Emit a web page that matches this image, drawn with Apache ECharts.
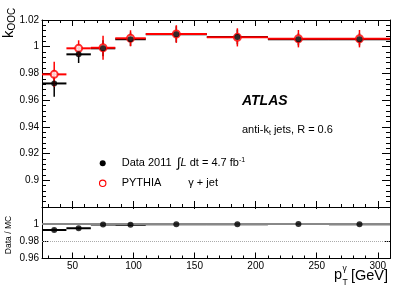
<!DOCTYPE html>
<html>
<head>
<meta charset="utf-8">
<script src="https://cdn.jsdelivr.net/npm/echarts@6/dist/echarts.min.js"></script>
<style>html,body{margin:0;padding:0;background:#fff}#c{width:411px;height:295px}</style>
</head>
<body>
<div id="c"></div>
<script>
// ---- data ----
const binLo = [25, 45, 65, 85, 110, 160, 210, 260];
const binHi = [45, 65, 85, 110, 160, 210, 260, 310];
const ptX   = [35, 55, 75, 97.5, 135, 185, 235, 285];
const dataK   = [0.9725, 0.9943, 0.9988, 1.0056, 1.0093, 1.0073, 1.0055, 1.0055];
const dataErr = [0.0100, 0.0065, 0.0060, 0.0050, 0.0060, 0.0055, 0.0045, 0.0045];
const mcK     = [0.9793, 0.9988, 0.9992, 1.0063, 1.0095, 1.0070, 1.0060, 1.0060];
const mcErr   = [0.0095, 0.0060, 0.0090, 0.0060, 0.0066, 0.0068, 0.0065, 0.0065];
const ratio    = [0.9932, 0.9952, 0.9995, 0.9993, 1.0000, 1.0000, 1.0002, 1.0000];
const ratioErr = [0.0015, 0.0010, 0.0010, 0.0010, 0.0010, 0.0010, 0.0010, 0.0010];
const xMajor = [50, 100, 150, 200, 250, 300];
const xMinor = [30, 40, 60, 70, 80, 90, 110, 120, 130, 140, 160, 170, 180, 190, 210, 220, 230, 240, 260, 270, 280, 290];
const yMainLabels = [0.9, 0.92, 0.94, 0.96, 0.98, 1, 1.02];
const yRatioLabels = [0.96, 0.98, 1];

const FONT = 'Liberation Sans, Arial, Helvetica, sans-serif';
const chart = echarts.init(document.getElementById('c'), null, {renderer: 'canvas'});

function xAx(grid, pos, ticks, len, showLine, labels) {
  return {
    type: 'value', gridIndex: grid, position: pos, min: 25, max: 310,
    axisLine: {show: showLine, onZero: false, lineStyle: {color: '#000', width: 1}},
    axisTick: {show: true, inside: true, length: len, customValues: ticks, lineStyle: {color: '#000', width: 1}},
    axisLabel: labels ? {show: true, customValues: labels, color: '#000', fontSize: 10, fontFamily: FONT, margin: 3} : {show: false},
    splitLine: {show: false}
  };
}
function yAx(grid, pos, min, max, labels, majLen, minor) {
  return {
    type: 'value', gridIndex: grid, position: pos, min: min, max: max, interval: 0.02,
    axisLine: {show: true, onZero: false, lineStyle: {color: '#000', width: 1}},
    axisTick: {show: true, inside: true, length: majLen, lineStyle: {color: '#000', width: 1}},
    minorTick: minor ? {show: true, splitNumber: 5, length: 4, lineStyle: {color: '#000', width: 1}} : {show: false},
    axisLabel: labels ? {show: true, customValues: labels, color: '#000', fontSize: 10, fontFamily: FONT, margin: 3} : {show: false},
    splitLine: {show: false}, minorSplitLine: {show: false}
  };
}

function barItem(color, hw, vw) {
  return function (params, api) {
    const x = api.value(0), y = api.value(1), lo = api.value(2), hi = api.value(3), e = api.value(4);
    const pL = api.coord([lo, y]), pR = api.coord([hi, y]);
    const pT = api.coord([x, y + e]), pB = api.coord([x, y - e]);
    return {type: 'group', children: [
      {type: 'line', shape: {x1: pL[0], y1: pL[1], x2: pR[0], y2: pR[1]}, style: {stroke: color, lineWidth: hw}},
      {type: 'line', shape: {x1: pT[0], y1: pT[1], x2: pB[0], y2: pB[1]}, style: {stroke: color, lineWidth: vw}}
    ]};
  };
}
const dataBars = dataK.map((v, i) => [ptX[i], v, binLo[i], binHi[i], dataErr[i]]);
const mcBars = mcK.map((v, i) => [ptX[i], v, binLo[i], binHi[i], mcErr[i]]);
const ratioBars = ratio.map((v, i) => [ptX[i], v, binLo[i], binHi[i], ratioErr[i]]);

const option = {
  animation: false,
  grid: [
    {left: 42, right: 21, top: 20, height: 187},
    {left: 42, right: 21, top: 207, height: 51.5}
  ],
  xAxis: [
    xAx(0, 'bottom', xMajor, 6, true, null),
    xAx(0, 'bottom', xMinor, 3, false, null),
    xAx(0, 'top', xMajor, 6, true, null),
    xAx(0, 'top', xMinor, 3, false, null),
    xAx(1, 'bottom', xMajor, 6, true, xMajor),
    xAx(1, 'bottom', xMinor, 3, false, null),
    xAx(1, 'top', xMajor, 2, false, null)
  ],
  yAxis: [
    yAx(0, 'left', 0.88, 1.02, yMainLabels, 8, true),
    yAx(0, 'right', 0.88, 1.02, null, 8, true),
    yAx(1, 'left', 0.96, 1.02, yRatioLabels, 6, false),
    yAx(1, 'right', 0.96, 1.02, null, 6, false)
  ],
  series: [
    {type: 'custom', name: 'dataBars', xAxisIndex: 0, yAxisIndex: 0, z: 2, clip: true,
     renderItem: barItem('#000', 2, 1.5), encode: {x: 0, y: 1}, data: dataBars},
    {type: 'custom', name: 'mcBars', xAxisIndex: 0, yAxisIndex: 0, z: 3, clip: true,
     renderItem: barItem('#ff0000', 2, 1.5), encode: {x: 0, y: 1}, data: mcBars},
    {type: 'scatter', name: 'PYTHIA', xAxisIndex: 0, yAxisIndex: 0, z: 4,
     symbol: 'emptyCircle', symbolSize: 7,
     itemStyle: {color: '#ff0000', borderColor: '#ff0000', borderWidth: 1.2},
     data: mcK.map((v, i) => [ptX[i], v])},
    {type: 'scatter', name: 'Data 2011', xAxisIndex: 0, yAxisIndex: 0, z: 5,
     symbol: 'circle', symbolSize: 6, itemStyle: {color: '#000'},
     data: dataK.map((v, i) => [ptX[i], v])},
    {type: 'custom', name: 'ratioBars', xAxisIndex: 4, yAxisIndex: 2, z: 2, clip: true,
     renderItem: barItem('#000', 2, 1.5), encode: {x: 0, y: 1}, data: ratioBars,
     markLine: {silent: true, symbol: 'none', label: {show: false}, animation: false,
       data: [
         {yAxis: 1, lineStyle: {color: '#888', width: 2, type: 'solid'}},
         {yAxis: 0.98, lineStyle: {color: '#aaa', width: 1, type: [1, 1]}}
       ]}},
    {type: 'scatter', name: 'ratio', xAxisIndex: 4, yAxisIndex: 2, z: 5,
     symbol: 'circle', symbolSize: 6, itemStyle: {color: '#000'},
     data: ratio.map((v, i) => [ptX[i], v])}
  ],
  graphic: [
    {type: 'text', x: 242, y: 101, style: {text: 'ATLAS', font: 'italic bold 14px ' + FONT, fill: '#000', verticalAlign: 'middle'}},
    {type: 'text', x: 242, y: 130, style: {text: 'anti-k{s|t} jets, R = 0.6', fill: '#000', verticalAlign: 'middle',
      font: '11px ' + FONT,
      rich: {s: {fontSize: 7, fontFamily: FONT, padding: [6, 0, 0, 0]}}}},
    {type: 'circle', shape: {cx: 102.7, cy: 163.3, r: 3}, style: {fill: '#000'}},
    {type: 'text', x: 121.7, y: 163.3, style: {text: 'Data 2011', font: '11px ' + FONT, fill: '#000', verticalAlign: 'middle'}},
    {type: 'text', x: 177, y: 163.3, style: {text: '{i|∫}{l|L} dt = 4.7 fb{u|-1}', fill: '#000', verticalAlign: 'middle',
      font: '11px ' + FONT,
      rich: {i: {fontSize: 13, fontFamily: FONT}, l: {fontSize: 11, fontStyle: 'italic', fontFamily: FONT},
             u: {fontSize: 7, fontFamily: FONT, padding: [0, 0, 6, 0]}}}},
    {type: 'circle', shape: {cx: 102.7, cy: 183.3, r: 3.2}, style: {fill: '#fff', stroke: '#ff0000', lineWidth: 1.1}},
    {type: 'text', x: 121.7, y: 183.3, style: {text: 'PYTHIA', font: '11px ' + FONT, fill: '#000', verticalAlign: 'middle'}},
    {type: 'text', x: 188.3, y: 183.3, style: {text: 'γ + jet', font: '11px ' + FONT, fill: '#000', verticalAlign: 'middle'}},
    // y-axis titles
    {type: 'text', x: 9, y: 38, rotation: Math.PI / 2, style: {text: '{k|k}{s|OOC}', fill: '#000', verticalAlign: 'middle', align: 'left',
      font: '15px ' + FONT,
      rich: {k: {fontSize: 15, fontFamily: FONT}, s: {fontSize: 10, fontFamily: FONT, padding: [7, 0, 0, 0]}}}},
    {type: 'text', x: 9, y: 235, rotation: Math.PI / 2, style: {text: 'Data / MC', font: '8.5px ' + FONT, fill: '#000', verticalAlign: 'middle', align: 'center'}},
    // x-axis title
    {type: 'text', x: 334, y: 275, style: {text: 'p', font: '14.5px ' + FONT, fill: '#000', verticalAlign: 'middle'}},
    {type: 'text', x: 342.5, y: 269, style: {text: 'γ', font: '8.5px ' + FONT, fill: '#000', verticalAlign: 'middle'}},
    {type: 'text', x: 342.5, y: 283, style: {text: 'T', font: '8.5px ' + FONT, fill: '#000', verticalAlign: 'middle'}},
    {type: 'text', x: 351, y: 276, style: {text: '[GeV]', font: '14.5px ' + FONT, fill: '#000', verticalAlign: 'middle'}}
  ]
};
chart.setOption(option);
</script>
</body>
</html>
